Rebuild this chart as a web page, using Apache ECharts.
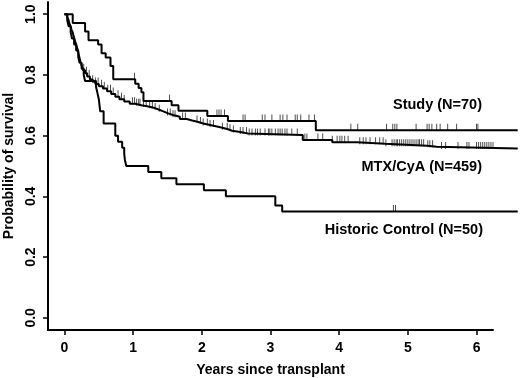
<!DOCTYPE html>
<html>
<head>
<meta charset="utf-8">
<script src="https://cdn.jsdelivr.net/npm/echarts@6/dist/echarts.min.js"></script>
<style>
  html, body { margin: 0; padding: 0; background: #fff; }
  #chart { width: 520px; height: 378px; }
</style>
</head>
<body>
<div id="chart"></div>
<script>
// Kaplan-Meier curves: time (years) where survival drops, and the new value
var studyTime = [0, 0.12, 0.30, 0.35, 0.49, 0.54, 0.60, 0.67, 0.71, 1.03, 1.08, 1.12, 1.15, 1.56, 1.66, 2.08, 2.38, 3.66, 6.60];
var studySurv = [1.0, 0.971, 0.943, 0.914, 0.900, 0.871, 0.857, 0.829, 0.786, 0.771, 0.757, 0.743, 0.714, 0.700, 0.682, 0.665, 0.648, 0.618, 0.618];

var mtxTime = [0, 0.04, 0.06, 0.07, 0.09, 0.10, 0.12, 0.13, 0.15, 0.17, 0.19, 0.21, 0.23, 0.25, 0.27, 0.30, 0.33, 0.37, 0.41, 0.45,
  0.50, 0.56, 0.62, 0.68, 0.74, 0.80, 0.87, 0.95, 1.03, 1.12, 1.22, 1.30, 1.37, 1.44, 1.50, 1.58, 1.68, 1.78, 1.86, 1.95,
  2.02, 2.12, 2.22, 2.30, 2.38, 2.44, 2.56, 2.67, 3.47, 3.90, 4.26, 4.67, 5.28, 5.42, 6.60];
var mtxSurv = [1.0, 0.99, 0.98, 0.97, 0.96, 0.95, 0.94, 0.93, 0.915, 0.90, 0.885, 0.865, 0.845, 0.83, 0.815, 0.805, 0.795, 0.785, 0.777, 0.77,
  0.763, 0.755, 0.746, 0.737, 0.728, 0.72, 0.712, 0.705, 0.70, 0.696, 0.692, 0.686, 0.68, 0.674, 0.668, 0.662, 0.655, 0.65, 0.645, 0.64,
  0.635, 0.63, 0.626, 0.621, 0.616, 0.612, 0.607, 0.602, 0.586, 0.578, 0.573, 0.567, 0.563, 0.558, 0.558];

var histTime = [0, 0.04, 0.06, 0.09, 0.11, 0.14, 0.17, 0.20, 0.22, 0.25, 0.28, 0.30, 0.46, 0.48, 0.50, 0.52, 0.57, 0.74, 0.78, 0.84,
  0.87, 0.88, 0.90, 1.22, 1.41, 1.63, 2.03, 2.35, 3.07, 3.17, 6.60];
var histSurv = [1.0, 0.98, 0.96, 0.94, 0.92, 0.90, 0.88, 0.86, 0.84, 0.82, 0.80, 0.78, 0.76, 0.74, 0.72, 0.68, 0.64, 0.60, 0.58, 0.56,
  0.54, 0.52, 0.50, 0.48, 0.46, 0.44, 0.42, 0.40, 0.37, 0.35, 0.35];

// censoring times (years)
var studyCens = [1.02, 1.53, 2.22, 2.25, 2.28, 2.33, 2.60, 2.63, 2.88, 2.92, 3.02, 3.14, 3.18, 3.24, 3.36, 3.39, 3.44, 3.56, 3.64,
  4.17, 4.27, 4.69, 4.78, 4.81, 4.84, 5.12, 5.28, 5.31, 5.35, 5.42, 5.47, 5.58, 5.71, 6.00, 6.02];
var mtxCens = [0.28, 0.32, 0.36, 0.41, 0.45, 0.49, 0.54, 0.58, 0.63, 0.67, 0.71, 0.78, 0.83, 0.87, 0.99, 1.02, 1.05, 1.08, 1.10,
  1.15, 1.19, 1.24, 1.28, 1.32, 1.38, 1.50, 1.54, 1.58, 1.61, 1.72, 1.76, 1.93, 1.98, 2.02, 2.08, 2.12, 2.17, 2.30, 2.37, 2.41,
  2.46, 2.56, 2.60, 2.65, 2.69, 2.73, 2.78, 2.81, 2.85, 2.92, 2.97, 2.99, 3.02, 3.07, 3.11, 3.14, 3.17, 3.21, 3.24, 3.31, 3.39,
  3.50, 3.53, 3.69, 3.76, 3.90, 3.97, 4.01, 4.04, 4.08, 4.13, 4.30, 4.35, 4.39, 4.45, 4.53, 4.59, 4.64, 4.68, 4.77, 4.80, 4.83,
  4.85, 4.88, 4.91, 4.94, 4.97, 5.00, 5.03, 5.06, 5.09, 5.12, 5.15, 5.17, 5.20, 5.23, 5.29, 5.32, 5.36, 5.49, 5.55, 5.73, 5.86,
  5.89, 6.00, 6.03, 6.06, 6.09, 6.12, 6.15, 6.18, 6.21, 6.24];
var histCens = [4.79, 4.82];

var xTicks = [0, 1, 2, 3, 4, 5, 6];
var yTicks = [0, 0.2, 0.4, 0.6, 0.8, 1.0];

var curveLabels = ['Study (N=70)', 'MTX/CyA (N=459)', 'Historic Control (N=50)'];

function pairs(t, s) {
  var out = [];
  for (var i = 0; i < t.length; i++) out.push([t[i], s[i]]);
  return out;
}
function survAt(t, s, x) {
  var v = s[0];
  for (var i = 0; i < t.length; i++) { if (t[i] <= x) v = s[i]; }
  return v;
}
function censPairs(t, s, c) {
  return c.map(function (x) { return [x, survAt(t, s, x)]; });
}

var font = '"Liberation Sans", Arial, Helvetica, sans-serif';
var boldText = { fontFamily: font, fontWeight: 'bold', fontSize: 14, color: '#000' };

function curve(t, s) {
  return {
    type: 'line', step: 'end', data: pairs(t, s), xAxisIndex: 0, yAxisIndex: 0,
    symbol: 'none', lineStyle: { color: '#000', width: 2 }, silent: true
  };
}
function marks(t, s, c) {
  return {
    type: 'scatter', data: censPairs(t, s, c), xAxisIndex: 0, yAxisIndex: 0,
    symbol: 'rect', symbolSize: [1, 7], symbolOffset: [0, -3],
    itemStyle: { color: '#222' }, silent: true
  };
}

var chart = echarts.init(document.getElementById('chart'));
chart.setOption({
  backgroundColor: '#fff',
  animation: false,
  // grid 0 holds the curves (they run past the axis box), grid 1 draws the axes
  grid: [
    { left: 48, right: 2, top: 2, bottom: 48, outerBoundsMode: 'none', containLabel: false },
    { left: 48, right: 27, top: 2, bottom: 48, outerBoundsMode: 'none', containLabel: false }
  ],
  xAxis: [
    { gridIndex: 0, type: 'value', min: -0.24, max: 6.604, show: false },
    {
      gridIndex: 1, type: 'value', min: -0.24, max: 6.24,
      name: 'Years since transplant', nameLocation: 'middle', nameGap: 33, nameTextStyle: boldText,
      axisLine: { show: true, onZero: false, lineStyle: { color: '#000', width: 2 } },
      axisTick: { show: true, length: 5, customValues: xTicks, lineStyle: { color: '#000', width: 1.5 } },
      axisLabel: Object.assign({ customValues: xTicks, margin: 11 }, boldText),
      splitLine: { show: false }
    }
  ],
  yAxis: [
    { gridIndex: 0, type: 'value', min: -0.04, max: 1.04, show: false },
    {
      gridIndex: 1, type: 'value', min: -0.04, max: 1.04,
      name: 'Probability of survival', nameLocation: 'middle', nameGap: 32, nameRotate: 90, nameTextStyle: boldText,
      axisLine: { show: true, onZero: false, lineStyle: { color: '#000', width: 2 } },
      axisTick: { show: true, length: 5, customValues: yTicks, lineStyle: { color: '#000', width: 1.5 } },
      axisLabel: Object.assign({
        customValues: yTicks, rotate: 90, margin: 10,
        formatter: function (v) { return v.toFixed(1); }
      }, boldText),
      splitLine: { show: false }
    }
  ],
  graphic: [
    { type: 'text', right: 38, top: 97, style: { text: curveLabels[0], font: 'bold 14.5px ' + font, fill: '#000' } },
    { type: 'text', right: 38, top: 159, style: { text: curveLabels[1], font: 'bold 14.5px ' + font, fill: '#000' } },
    { type: 'text', right: 37, top: 222, style: { text: curveLabels[2], font: 'bold 14.5px ' + font, fill: '#000' } }
  ],
  series: [
    curve(histTime, histSurv),
    curve(mtxTime, mtxSurv),
    curve(studyTime, studySurv),
    marks(histTime, histSurv, histCens),
    marks(mtxTime, mtxSurv, mtxCens),
    marks(studyTime, studySurv, studyCens)
  ]
});
</script>
</body>
</html>
